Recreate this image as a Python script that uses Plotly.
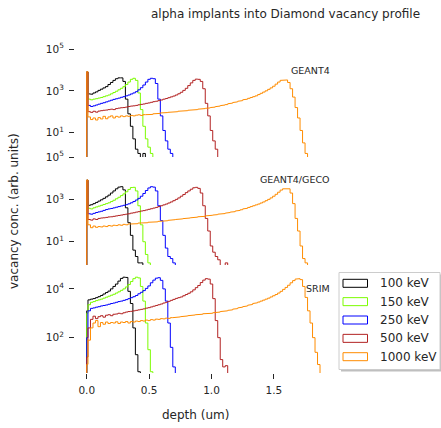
import numpy as np
import plotly.graph_objects as go

# ---------------- data (vacancy concentration, arb. units) ----------------
# bin 0 spans 0-0.01 um, then bins of 0.02 um (centres at 0.02, 0.04, ...)
ENERGIES = ["100 keV", "150 keV", "250 keV", "500 keV", "1000 keV"]
COLORS = ["#000000", "#7CFC00", "#0000FF", "#B22222", "#FF8C00"]
PANEL_LABELS = ["GEANT4", "GEANT4/GECO", "SRIM"]
FIRST_BIN_UM = 0.01
BIN_UM = 0.02

geant4_100 = [8000, 710, 690, 790, 890, 1050, 1200, 1380, 1590, 2000, 2510, 3160, 3800, 4170,
              4170, 2820, 400, 79, 20, 5, 1.6, 1, 0, 1]
geant4_150 = [8000, 400, 370, 400, 420, 450, 480, 525, 575, 630, 720, 830, 955, 1120, 1320,
              1590, 2000, 2630, 3550, 3980, 3160, 790, 126, 20, 5, 2, 1]
geant4_250 = [8000, 200, 178, 191, 209, 229, 251, 269, 295, 324, 355, 389, 417, 447, 490, 525,
              575, 631, 708, 794, 912, 1120, 1410, 1900, 2630, 3550, 3980, 3800, 2240, 400, 63,
              12.6, 4, 1.6, 1]
geant4_500 = [8000, 100, 93, 105, 95, 107, 112, 117, 120, 126, 132, 126, 141, 148, 155, 158,
              166, 178, 186, 191, 200, 214, 224, 234, 251, 263, 282, 302, 316, 339, 363, 398,
              427, 468, 513, 562, 631, 724, 851, 1050, 1320, 1780, 2400, 3160, 3630, 3550, 2820,
              1260, 251, 63, 12.6, 4, 1.6]
geant4_1000 = [8300, 56, 42, 50, 40, 52, 45, 60, 46, 56, 63, 50, 60, 55, 63, 58, 63, 60, 66, 63,
               68, 71, 66, 72, 71, 76, 74, 79, 79, 83, 87, 85, 91, 93, 95, 100, 100, 105, 107,
               112, 112, 117, 120, 126, 126, 132, 135, 141, 145, 151, 158, 166, 174, 186, 195,
               209, 219, 240, 257, 275, 295, 316, 339, 372, 398, 437, 479, 525, 575, 661, 759,
               871, 1000, 1175, 1380, 1660, 2090, 2630, 3160, 3390, 3310, 2510, 1260, 501, 158,
               50, 12.6, 3.2, 1]

geco_100 = [8000, 525, 560, 630, 720, 830, 955, 1120, 1320, 1590, 2000, 2510, 3160, 3800, 3980,
            2820, 400, 79, 20, 4, 2, 1, 1]
geco_150 = [8000, 380, 355, 400, 440, 480, 525, 575, 630, 690, 790, 910, 1070, 1260, 1510,
            1820, 2290, 2950, 3630, 3720, 2510, 500, 63, 10, 2.5, 1]
geco_250 = [8000, 209, 200, 219, 240, 257, 275, 302, 331, 355, 372, 398, 427, 457, 490, 525,
            562, 617, 692, 794, 933, 1120, 1410, 1900, 2630, 3470, 3980, 3800, 2510, 500, 100,
            20, 5, 2, 1.6, 1]
geco_500 = [8000, 112, 105, 120, 112, 126, 132, 135, 141, 148, 151, 158, 166, 174, 182, 191,
            200, 209, 224, 234, 251, 263, 282, 295, 316, 339, 363, 389, 417, 457, 501, 550, 603,
            676, 759, 871, 1000, 1175, 1413, 1698, 2089, 2512, 3020, 3548, 3715, 3311, 1995,
            501, 126, 32, 6.3, 3.2, 2, 1.4, 0, 0, 1]
geco_1000 = [8300, 63, 46, 55, 48, 52, 50, 55, 52, 58, 55, 60, 58, 63, 60, 66, 63, 69, 68, 72,
             71, 76, 74, 79, 79, 83, 81, 87, 87, 91, 93, 95, 98, 102, 105, 110, 112, 117, 120,
             123, 126, 132, 135, 141, 145, 151, 155, 158, 166, 170, 178, 182, 191, 200, 204,
             214, 224, 240, 251, 263, 282, 302, 324, 355, 380, 417, 457, 501, 550, 603, 676,
             759, 871, 1000, 1175, 1413, 1738, 2188, 2754, 3162, 3388, 3162, 1995, 631, 126,
             32, 6.3, 1.6, 1]

srim_100 = [1260, 3550, 3800, 4000, 4370, 4790, 5370, 6170, 7080, 8130, 10000, 12600, 15800,
            20900, 26900, 30200, 29500, 7940, 2510, 251, 20, 4]
srim_150 = [1000, 2240, 2820, 3020, 3310, 3550, 3800, 4170, 4570, 5010, 5500, 6030, 6760, 7590,
            8710, 10000, 12000, 15100, 20000, 26300, 30200, 28200, 12600, 3160, 398, 32, 4]
srim_250 = [100, 1260, 1590, 1660, 1780, 1860, 2000, 2090, 2190, 2340, 2510, 2630, 2820, 3020,
            3160, 3390, 3630, 3980, 4370, 4790, 5370, 6310, 7240, 8510, 10500, 13200, 17800,
            22900, 27500, 28800, 22400, 10000, 3160, 398, 40, 6.3]
srim_500 = [16, 251, 562, 759, 603, 724, 794, 692, 832, 871, 794, 912, 933, 1000, 955, 1047,
            1122, 1175, 1202, 1259, 1318, 1380, 1445, 1514, 1622, 1698, 1820, 1950, 2089, 2239,
            2399, 2630, 2818, 3090, 3388, 3715, 4074, 4365, 4677, 5248, 5888, 6607, 7586, 9120,
            11220, 13804, 18197, 22909, 26303, 25119, 15849, 3981, 501, 100, 12.6, 6.3, 7.1]
srim_1000 = [8, 79, 251, 398, 501, 282, 417, 355, 437, 380, 417, 398, 447, 380, 437, 417, 457,
             398, 457, 437, 479, 457, 501, 479, 525, 501, 550, 525, 575, 562, 603, 589, 631,
             617, 661, 661, 692, 708, 724, 759, 776, 794, 813, 851, 871, 891, 912, 955, 977,
             1000, 1000, 1047, 1096, 1122, 1175, 1202, 1259, 1318, 1380, 1479, 1549, 1660, 1778,
             1862, 1995, 2138, 2291, 2512, 2692, 2884, 3162, 3467, 3802, 4169, 4677, 5248, 5888,
             6761, 7943, 9550, 11482, 14125, 17783, 21878, 25119, 26303, 23988, 12589, 4467,
             1259, 398, 100, 25, 7.9]

PANELS = [
    [geant4_100, geant4_150, geant4_250, geant4_500, geant4_1000],
    [geco_100, geco_150, geco_250, geco_500, geco_1000],
    [srim_100, srim_150, srim_250, srim_500, srim_1000],
]
Y_TICKS = [[1e1, 1e3, 1e5], [1e1, 1e3, 1e5], [1e2, 1e4]]
Y_TICKTEXT = [["10<sup>1</sup>", "10<sup>3</sup>", "10<sup>5</sup>"],
              ["10<sup>1</sup>", "10<sup>3</sup>", "10<sup>5</sup>"],
              ["10<sup>2</sup>", "10<sup>4</sup>"]]
X_TICKS = [0.0, 0.5, 1.0, 1.5]
X_TICKTEXT = ["0.0", "0.5", "1.0", "1.5"]

# ---------------- figure geometry ----------------
W, H = 441, 428
L, R, T, B = 75, 108, 49, 55
PW, PH = W - L - R, H - T - B
FLOOR = 1e-3
FONT = "DejaVu Sans"
TXT = "#262626"


def px2x(px):
    return (px - L) / PW


def px2y(py):
    return (H - B - py) / PH


def step_xy(vals):
    v = np.asarray(vals, dtype=float)
    v = np.where(v > 0, v, FLOOR)
    edges = np.concatenate([[0.0], FIRST_BIN_UM + BIN_UM * np.arange(len(v))])
    x = np.repeat(edges, 2)
    y = np.concatenate([[FLOOR], np.repeat(v, 2), [FLOOR]])
    return x, y


fig = go.Figure()
yaxes = ["y", "y2", "y3"]
for p, series in enumerate(PANELS):
    for s, vals in enumerate(series):
        x, y = step_xy(vals)
        fig.add_trace(go.Scatter(
            x=x, y=y, mode="lines", xaxis="x", yaxis=yaxes[p],
            line=dict(color=COLORS[s], width=1.0),
            name=ENERGIES[s], showlegend=False, hoverinfo="skip"))

yranges = [[-0.17, 5.003], [-0.1, 5.003], [0.55, 4.98]]
domains = [[2 / 3, 1.0], [1 / 3, 2 / 3], [0.0, 1 / 3]]
common_y = dict(type="log", showgrid=False, zeroline=False, showline=False,
                ticks="outside", ticklen=5, tickwidth=1, tickcolor=TXT,
                tickfont=dict(family=FONT, size=10.5, color=TXT),
                ticklabelstandoff=3, anchor="x", fixedrange=True)
layout_axes = {}
for p in range(3):
    key = "yaxis" if p == 0 else f"yaxis{p + 1}"
    layout_axes[key] = dict(common_y, range=yranges[p], domain=domains[p],
                            tickmode="array", tickvals=Y_TICKS[p], ticktext=Y_TICKTEXT[p])

fig.update_layout(
    width=W, height=H,
    margin=dict(l=L, r=R, t=T, b=B, pad=0),
    paper_bgcolor="white", plot_bgcolor="white",
    showlegend=False,
    xaxis=dict(range=[-0.094, 1.974], domain=[0, 1], anchor="y3",
               showgrid=False, zeroline=False, showline=False, fixedrange=True,
               ticks="outside", ticklen=5, tickwidth=1, tickcolor=TXT,
               tickmode="array", tickvals=X_TICKS, ticktext=X_TICKTEXT,
               tickfont=dict(family=FONT, size=10.5, color=TXT),
               ticklabelstandoff=2),
    **layout_axes,
)

ann = []
# title
ann.append(dict(text="alpha implants into Diamond vacancy profile", x=px2x(285.5), y=px2y(14),
                xref="paper", yref="paper", xanchor="center", yanchor="middle", showarrow=False,
                font=dict(family=FONT, size=12, color=TXT)))
# axis titles
ann.append(dict(text="vacancy conc. (arb. units)", x=px2x(14), y=px2y(211), textangle=-90,
                xref="paper", yref="paper", xanchor="center", yanchor="middle", showarrow=False,
                font=dict(family=FONT, size=12, color=TXT)))
ann.append(dict(text="depth (um)", x=px2x(195.5), y=px2y(415),
                xref="paper", yref="paper", xanchor="center", yanchor="middle", showarrow=False,
                font=dict(family=FONT, size=12, color=TXT)))
# panel labels
for lab, py in zip(PANEL_LABELS, [71, 179.5, 288.5]):
    ann.append(dict(text=lab, x=px2x(331.5), y=px2y(py), xref="paper", yref="paper",
                    xanchor="right", yanchor="middle", showarrow=False,
                    font=dict(family=FONT, size=9.5, color=TXT)))

shapes = []
# legend (matplotlib-style: outlined patches in a framed box with shadow)
lx0, ly0, lx1, ly1 = 339, 272.5, 440, 369.5
shapes.append(dict(type="rect", xref="paper", yref="paper",
                   x0=px2x(lx0 + 2), x1=px2x(lx1 + 2), y0=px2y(ly0 + 2), y1=px2y(ly1 + 2),
                   line=dict(width=0), fillcolor="rgba(0,0,0,0.25)", layer="above"))
shapes.append(dict(type="rect", xref="paper", yref="paper",
                   x0=px2x(lx0), x1=px2x(lx1), y0=px2y(ly0), y1=px2y(ly1),
                   line=dict(color="#cccccc", width=1), fillcolor="white", layer="above"))
for i, (lab, col) in enumerate(zip(ENERGIES, COLORS)):
    yc = 283.3 + i * 18.35
    shapes.append(dict(type="rect", xref="paper", yref="paper",
                       x0=px2x(343), x1=px2x(367.5), y0=px2y(yc - 4), y1=px2y(yc + 4),
                       line=dict(color=col, width=1), fillcolor="rgba(0,0,0,0)", layer="above"))
    ann.append(dict(text=lab, x=px2x(377.5), y=px2y(yc), xref="paper", yref="paper",
                    xanchor="left", yanchor="middle", showarrow=False,
                    font=dict(family=FONT, size=12, color=TXT)))

fig.update_layout(annotations=ann, shapes=shapes)
fig.write_html("out.html", config={"displayModeBar": False, "staticPlot": True},
               post_script="document.body.style.margin='0';document.body.style.overflow='hidden';")
